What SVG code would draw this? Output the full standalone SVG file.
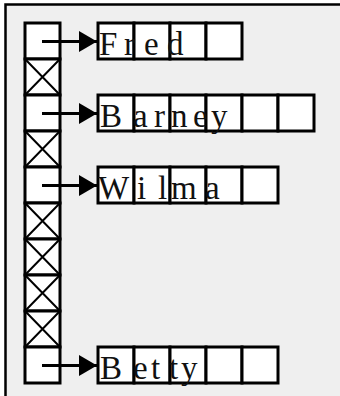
<svg xmlns="http://www.w3.org/2000/svg" width="340" height="396" viewBox="0 0 340 396">
  <defs>
    <style>
      .cell { fill: #ffffff; stroke: #000000; stroke-width: 3; }
      .x { stroke: #000000; stroke-width: 2; fill: none; }
      .lbl { font-family: "Liberation Serif", "Times New Roman", serif; font-size: 33px; fill: #111111; }
      .conn { stroke: #000000; stroke-width: 3; fill: none; }
    </style>
    <marker id="ah" markerUnits="userSpaceOnUse" markerWidth="20" markerHeight="24" refX="18" refY="12" orient="auto">
      <path d="M0,1.5 L18,12 L0,22.5 Z" fill="#000000"/>
    </marker>
  </defs>
  <rect x="0" y="0" width="340" height="396" fill="#ffffff"/>
  <rect x="5" y="4.5" width="335" height="391.5" fill="#efefef"/>
  <path d="M5.5,396 L5.5,4.5 L340,4.5" fill="none" stroke="#000000" stroke-width="2.5"/>

  <g id="array">
    <rect class="cell" x="25" y="23" width="35" height="36"/>
    <rect class="cell" x="25" y="59" width="35" height="36"/>
    <path class="x" d="M25,59 L60,95 M60,59 L25,95"/>
    <rect class="cell" x="25" y="95" width="35" height="36"/>
    <rect class="cell" x="25" y="131" width="35" height="36"/>
    <path class="x" d="M25,131 L60,167 M60,131 L25,167"/>
    <rect class="cell" x="25" y="167" width="35" height="36"/>
    <rect class="cell" x="25" y="203" width="35" height="36"/>
    <path class="x" d="M25,203 L60,239 M60,203 L25,239"/>
    <rect class="cell" x="25" y="239" width="35" height="36"/>
    <path class="x" d="M25,239 L60,275 M60,239 L25,275"/>
    <rect class="cell" x="25" y="275" width="35" height="36"/>
    <path class="x" d="M25,275 L60,311 M60,275 L25,311"/>
    <rect class="cell" x="25" y="311" width="35" height="36"/>
    <path class="x" d="M25,311 L60,347 M60,311 L25,347"/>
    <rect class="cell" x="25" y="347" width="35" height="36"/>
  </g>

  <g id="fred">
    <rect class="cell" x="98" y="23" width="36" height="36"/>
    <rect class="cell" x="134" y="23" width="36" height="36"/>
    <rect class="cell" x="170" y="23" width="36" height="36"/>
    <rect class="cell" x="206" y="23" width="36" height="36"/>
    <text class="lbl" x="99 124 144 167" y="55">Fred</text>
  </g>

  <g id="barney">
    <rect class="cell" x="98" y="95" width="36" height="36"/>
    <rect class="cell" x="134" y="95" width="36" height="36"/>
    <rect class="cell" x="170" y="95" width="36" height="36"/>
    <rect class="cell" x="206" y="95" width="36" height="36"/>
    <rect class="cell" x="242" y="95" width="36" height="36"/>
    <rect class="cell" x="278" y="95" width="36" height="36"/>
    <text class="lbl" x="100 133 154 171 193 211" y="127">Barney</text>
  </g>

  <g id="wilma">
    <rect class="cell" x="98" y="167" width="36" height="36"/>
    <rect class="cell" x="134" y="167" width="36" height="36"/>
    <rect class="cell" x="170" y="167" width="36" height="36"/>
    <rect class="cell" x="206" y="167" width="36" height="36"/>
    <rect class="cell" x="242" y="167" width="36" height="36"/>
    <text class="lbl" x="98 137 158 171 205" y="199">Wilma</text>
  </g>

  <g id="betty">
    <rect class="cell" x="98" y="347" width="36" height="36"/>
    <rect class="cell" x="134" y="347" width="36" height="36"/>
    <rect class="cell" x="170" y="347" width="36" height="36"/>
    <rect class="cell" x="206" y="347" width="36" height="36"/>
    <rect class="cell" x="242" y="347" width="36" height="36"/>
    <text class="lbl" x="100 133 151 169 181" y="379">Betty</text>
  </g>

  <g id="connectors">
    <line class="conn" x1="42" y1="41.5" x2="97" y2="41.5" marker-end="url(#ah)"/>
    <line class="conn" x1="42" y1="113.5" x2="97" y2="113.5" marker-end="url(#ah)"/>
    <line class="conn" x1="42" y1="185.5" x2="97" y2="185.5" marker-end="url(#ah)"/>
    <line class="conn" x1="42" y1="365.5" x2="97" y2="365.5" marker-end="url(#ah)"/>
  </g>
</svg>
